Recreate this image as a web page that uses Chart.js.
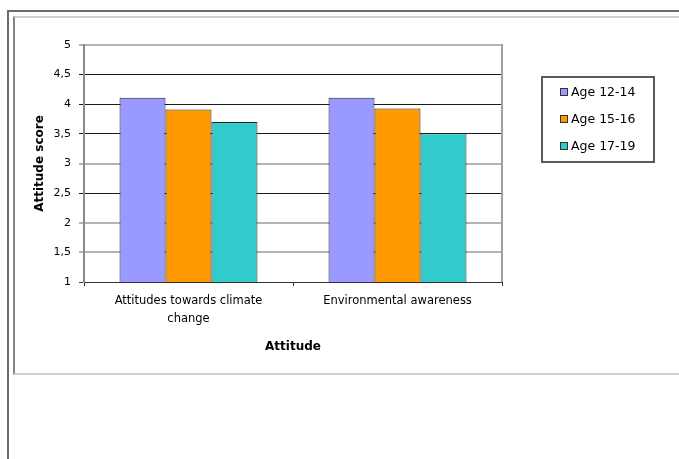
<!DOCTYPE html>
<html>
<head>
<meta charset="utf-8">
<script src="https://cdn.jsdelivr.net/npm/chart.js@4/dist/chart.umd.min.js"></script>
<style>
html,body{margin:0;padding:0;background:#fff;}
#wrap{position:relative;width:679px;height:459px;overflow:hidden;background:#fff;}
#outer{position:absolute;left:7px;top:10px;width:720px;height:520px;border-top:2px solid #6b6b6b;border-left:2px solid #6b6b6b;}
#inner{position:absolute;left:13px;top:16px;width:720px;height:355px;border-top:2px solid #cfcfcf;border-left:2px solid #858585;border-bottom:2px solid #cfcfcf;}
canvas{position:absolute;left:0;top:0;}
</style>
</head>
<body>
<div id="wrap"><div id="outer"></div><div id="inner"></div><canvas id="c" width="679" height="459"></canvas></div>
<script>
// ---- data ----
const categories = [['Attitudes towards climate', 'change'], 'Environmental awareness'];
const seriesNames = ['Age 12-14', 'Age 15-16', 'Age 17-19'];
const age1214 = [4.11, 4.11];
const age1516 = [3.91, 3.93];
const age1719 = [3.70, 3.51];
const yTickLabels = ['1', '1,5', '2', '2,5', '3', '3,5', '4', '4,5', '5'];
const xTitle = 'Attitude';
const yTitle = 'Attitude score';

// ---- styles ----
const FONT = 'DejaVu Sans';
const colors = ['#9999FF', '#FF9900', '#33CCCC'];
const darkGrid = [2.5, 3.5, 4, 4.5];

const plotFrame = {
  id: 'plotFrame',
  afterDatasetsDraw(chart) {
    const { ctx, chartArea: a } = chart;
    ctx.save();
    ctx.strokeStyle = '#a0a0a0';
    ctx.lineWidth = 2;
    ctx.beginPath();
    ctx.moveTo(a.right, a.top - 1);
    ctx.lineTo(a.right, a.bottom);
    ctx.stroke();
    ctx.restore();
  }
};

const boxLegend = {
  id: 'boxLegend',
  afterDraw(chart) {
    const { ctx, chartArea: a } = chart;
    const L = a.right + 40, T = 77, W = 112, H = 85;
    ctx.save();
    ctx.strokeStyle = '#5a5a5a';
    ctx.lineWidth = 2;
    ctx.strokeRect(L, T, W, H);
    ctx.font = '12.5px "' + FONT + '"';
    ctx.textBaseline = 'middle';
    ctx.textAlign = 'left';
    chart.data.datasets.forEach((ds, i) => {
      const cy = T + 15 + i * 27;
      ctx.fillStyle = ds.backgroundColor;
      ctx.fillRect(L + 18, cy - 4, 8, 8);
      ctx.strokeStyle = '#333';
      ctx.lineWidth = 1;
      ctx.strokeRect(L + 18.5, cy - 3.5, 7, 7);
      ctx.fillStyle = '#000';
      ctx.fillText(ds.label, L + 29, cy + 0.5);
    });
    ctx.restore();
  }
};

new Chart(document.getElementById('c'), {
  type: 'bar',
  data: {
    labels: categories,
    datasets: [
      { label: seriesNames[0], data: age1214, backgroundColor: colors[0] },
      { label: seriesNames[1], data: age1516, backgroundColor: colors[1] },
      { label: seriesNames[2], data: age1719, backgroundColor: colors[2] }
    ].map(d => Object.assign(d, { borderColor: '#222', borderWidth: 1, barPercentage: 1, categoryPercentage: 0.66 }))
  },
  options: {
    responsive: false,
    devicePixelRatio: 1,
    animation: false,
    layout: { padding: { left: 30, top: 45, right: 177, bottom: 87 } },
    plugins: { legend: { display: false }, tooltip: { enabled: false } },
    scales: {
      x: {
        ticks: { color: '#000', font: { family: FONT, size: 11.5, lineHeight: 1.55 }, padding: 6, maxRotation: 0, autoSkip: false },
        grid: { offset: true, drawOnChartArea: false, drawTicks: true, tickLength: 4, color: '#333' },
        border: { display: true, color: '#333', width: 1 },
        title: { display: true, text: xTitle, color: '#000', font: { family: FONT, size: 12, weight: 'bold' }, padding: { top: 0, bottom: 18 } },
        afterFit: s => { s.height = 90; }
      },
      y: {
        min: 1, max: 5,
        ticks: { stepSize: 0.5, color: '#000', font: { family: FONT, size: 11 }, padding: 8,
                 callback: (v, i) => yTickLabels[i] },
        grid: {
          tickLength: 5,
          color: c => c.tick && c.tick.value === 1 ? '#444' : (darkGrid.includes(c.tick && c.tick.value) ? '#1a1a1a' : '#b4b4b4'),
          lineWidth: c => c.tick && darkGrid.includes(c.tick.value) ? 1 : (c.tick && c.tick.value === 1 ? 1 : 2)
        },
        border: { display: true, color: '#8a8a8a', width: 2 },
        title: { display: true, text: yTitle, color: '#000', font: { family: FONT, size: 12, weight: 'bold' }, padding: { top: 3, bottom: 0 } },
        afterFit: s => { s.width = 54; }
      }
    }
  },
  plugins: [plotFrame, boxLegend]
});
</script>
</body>
</html>
